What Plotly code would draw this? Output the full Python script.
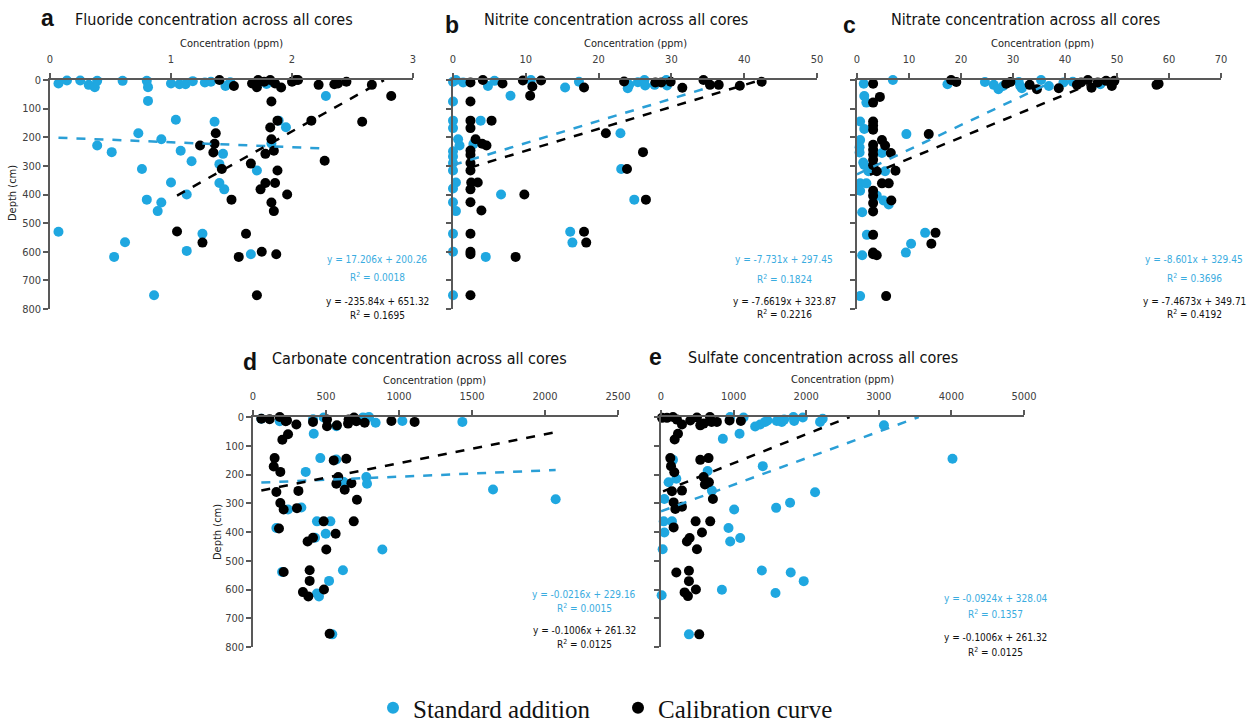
import numpy as np
import plotly.graph_objects as go

W, H = 1250, 727
BLUE = "#1FA7E0"
BLUE_TXT = "#3AACE0"
BLACK = "#000000"
AXC = "#595959"
NARROW = "DejaVu Sans Condensed, Liberation Sans Narrow, sans-serif"

# ---------------- data (concentration ppm, depth cm) ----------------
fluoride_sa_conc = [0.07,0.14,0.25,0.32,0.37,0.39,0.60,0.80,0.81,0.81,1.00,1.07,1.12,1.18,1.28,1.33,1.45,1.49,1.79,2.28,
                    1.04,1.36,1.89,1.95,0.73,0.92,0.39,0.51,1.08,1.17,1.43,1.40,0.76,1.71,1.00,1.40,1.44,1.13,0.80,0.92,
                    0.89,1.83,0.07,0.62,0.53,1.26,1.13,1.66,0.86]
fluoride_sa_depth = [12,2,2,17,25,3,3,3,25,73,12,15,15,4,9,6,21,8,14,56,
                     139,146,142,165,186,207,229,252,247,284,258,294,311,316,358,360,382,400,418,428,
                     458,222,530,567,618,537,597,609,752]
fluoride_cc_conc = [1.40,1.52,1.67,1.71,1.72,1.71,1.77,1.82,1.86,1.91,2.00,2.03,2.05,2.22,2.35,2.38,2.45,2.66,2.82,1.83,
                    1.88,2.16,2.58,1.82,1.37,1.83,1.24,1.36,1.35,1.85,1.78,2.27,1.66,1.42,1.88,1.78,1.86,1.74,1.96,1.50,
                    1.83,1.85,1.05,1.62,1.26,1.56,1.75,1.87,1.71]
fluoride_cc_depth = [0,21,12,7,0,25,6,0,12,26,6,0,0,17,15,12,6,17,56,75,
                     142,142,146,166,186,207,229,223,253,247,258,282,292,311,316,360,360,382,400,418,
                     428,458,529,537,568,618,600,609,752]

nitrite_sa_conc = [0,0.4,1.4,4.8,5.7,7.9,10.7,15.4,17.3,24,24.2,25.4,26.3,26.4,27.7,29.3,29.4,0,0,0,
                   3.8,0.7,0.9,2.8,0,0,0,0,0.4,0,0,0.4,6.6,23,23.1,24.9,16.1,16.4,0,0,4.5,0]
nitrite_sa_depth = [6,0,9,21,3,55,0,26,6,29,17,8,0,19,17,0,19,75,142,168,
                    142,207,229,224,249,267,290,316,358,379,427,458,400,186,311,418,530,568,537,600,618,752]
nitrite_cc_conc = [2.4,4.1,6.8,9.6,10.9,12.1,18.0,23.5,27.8,28.6,29.9,31.5,34.4,35.3,36.5,39.4,42.4,10.6,2.4,2.4,
                   2.4,5.3,21,3.1,4.0,4.6,2.4,2.4,2.4,2.4,26.1,23.9,2.5,3.4,2.4,9.8,2.4,3.9,26.5,18,
                   18.3,2.4,2.4,2.4,8.6,2.4]
nitrite_cc_depth = [9,0,12,2,23,2,26,5,9,9,6,27,0,17,17,20,6,55,75,142,
                    168,142,186,207,223,229,246,261,290,316,252,311,358,358,382,400,427,456,418,530,
                    568,537,600,609,618,752]

nitrate_sa_conc = [1.3,6.9,17.4,24.6,26.3,27.2,28.1,31.1,31.4,31.7,35.4,36.9,39.7,41.5,46.8,1.4,1.8,0.6,1.4,0.6,
                   0.5,0.5,1.2,1.4,2.2,4.8,5.4,9.5,0.6,1.8,0.6,3.8,5.1,6.1,1.0,1.9,13.1,10.4,9.4,1.0,0.6]
nitrate_sa_depth = [13,0,15,7,17,32,21,7,21,29,0,21,9,6,15,56,79,145,171,210,
                    235,253,288,297,319,255,319,189,361,361,387,404,421,435,462,541,534,572,603,612,755]
nitrate_cc_conc = [3.1,3.1,4.4,3.1,3.1,3.1,3.1,3.1,3.1,3.1,3.1,3.8,4.8,5.4,6.5,7.4,4.8,6.1,3.1,3.1,
                   3.1,3.1,6.6,3.1,3.1,3.8,3.1,13.8,15.1,14.3,5.6,18.1,19.1,28.7,29.5,33.2,34.6,38.8,42.3,43.1,
                   44.4,45.1,46.3,47.9,49.0,49.5,57.6,58.0]
nitrate_cc_depth = [13,79,59,145,159,174,226,244,260,279,298,319,210,229,255,317,361,361,387,404,
                    430,459,421,541,603,612,609,189,534,572,755,0,7,13,7,17,32,29,17,9,
                    0,27,9,3,21,3,17,13]

carbonate_sa_conc = [57,183,411,484,571,753,776,795,840,1023,1434,416,461,571,361,776,781,621,1644,2073,
                     240,331,160,438,530,498,425,886,616,199,521,438,452,543]
carbonate_sa_depth = [6,15,8,2,32,2,3,0,20,14,17,58,143,148,191,209,232,226,252,286,
                      322,315,386,363,363,406,420,461,533,539,570,614,624,756]
carbonate_cc_conc = [57,114,183,224,233,297,411,507,507,575,651,692,708,765,948,1107,655,240,201,148,
                     142,187,553,639,584,571,628,674,712,160,311,187,210,301,178,484,690,566,411,374,
                     502,388,388,210,342,379,486,525]
carbonate_cc_depth = [6,8,0,15,12,26,17,9,32,29,23,2,15,20,14,17,9,60,79,143,
                      172,191,151,145,209,232,253,230,288,261,257,299,322,317,388,363,363,406,420,433,
                      461,533,570,539,609,624,600,754]

sulfate_sa_conc = [953,1137,1082,852,1297,1366,1434,1467,1595,1664,1696,1824,1834,1953,2191,2227,3071,4015,1402,165,
                   105,211,642,701,2122,46,1008,1586,1778,37,151,46,930,953,1091,23,1389,1787,1966,839,
                   1577,9,385]
sulfate_sa_depth = [0,2,58,76,33,26,17,12,14,17,9,0,14,2,17,6,29,145,171,149,
                    227,215,188,256,262,285,322,316,298,363,363,402,386,433,421,460,534,541,571,601,
                    612,620,756]
sulfate_cc_conc = [14,82,165,220,289,403,495,541,587,674,697,770,944,1100,234,188,128,138,183,541,
                   655,587,605,660,151,289,174,197,289,715,477,678,174,564,394,357,495,211,385,385,
                   325,371,481,527]
sulfate_cc_depth = [3,3,0,9,26,12,2,29,23,0,17,17,12,14,58,78,143,171,192,149,
                    143,209,235,227,258,256,297,320,312,285,363,363,384,402,421,433,460,541,535,571,
                    610,623,600,756]

# linear fits: depth = slope * conc + intercept, drawn over the fitted x extent
fit_slope_sa = [17.206, -7.731, -8.601, -0.0216, -0.0924]
fit_icpt_sa = [200.26, 297.45, 329.45, 229.16, 328.04]
fit_r2_sa = ["0.0018", "0.1824", "0.3696", "0.0015", "0.1357"]
fit_slope_cc = [-235.84, -7.6619, -7.4673, -0.1006, -0.1006]
fit_icpt_cc = [651.32, 323.87, 349.71, 261.32, 261.32]
fit_r2_cc = ["0.1695", "0.2216", "0.4192", "0.0125", "0.0125"]
fit_xrange_sa = [[0.07, 2.28], [0, 35.2], [0, 36.3], [57, 2073], [0, 3550]]
fit_xrange_cc = [[1.05, 2.76], [2.4, 42.3], [2.5, 44.3], [57, 2100], [28, 2598]]

panel_letters = ["a", "b", "c", "d", "e"]
panel_titles = ["Fluoride concentration across all cores", "Nitrite concentration across all cores",
                "Nitrate concentration across all cores", "Carbonate concentration across all cores",
                "Sulfate concentration across all cores"]
x_max = [3, 50, 70, 2500, 5000]
x_dtick = [1, 10, 10, 500, 1000]
depth_ticks = [0, 100, 200, 300, 400, 500, 600, 700, 800]

series = [
    (fluoride_sa_conc, fluoride_sa_depth, fluoride_cc_conc, fluoride_cc_depth),
    (nitrite_sa_conc, nitrite_sa_depth, nitrite_cc_conc, nitrite_cc_depth),
    (nitrate_sa_conc, nitrate_sa_depth, nitrate_cc_conc, nitrate_cc_depth),
    (carbonate_sa_conc, carbonate_sa_depth, carbonate_cc_conc, carbonate_cc_depth),
    (sulfate_sa_conc, sulfate_sa_depth, sulfate_cc_conc, sulfate_cc_depth),
]

# ---------------- layout geometry (pixels) ----------------
boxes = [(50, 413, 80, 309), (453, 817, 80, 309), (857, 1221, 80, 309),
         (253, 618, 417, 647), (661, 1024, 417, 647)]
letter_pos = [(47, 18), (452, 25), (849, 25), (250, 362), (655, 357)]
title_pos = [(214, 20), (616, 20), (1025, 20), (419, 359), (823, 357)]
axtitle_pos = [(232, 43), (635, 43), (1042, 43), (435, 380), (842, 379)]
eq_pos = [(377, 260, 277, 301, 315), (784, 260, 279, 301, 314), (1194, 259, 278, 301, 314),
          (584, 594, 608, 630, 644), (996, 598, 614, 637, 652)]
show_ylabels = [True, False, False, True, False]
depth_title_pos = [(12, 193), (217, 532)]


def px(x):
    return x / W


def py(y):
    return 1 - y / H


fig = go.Figure()
layout = dict(width=W, height=H, margin=dict(l=0, r=0, t=0, b=0, autoexpand=False),
              paper_bgcolor="white", plot_bgcolor="white", showlegend=True)
annotations = []

for i in range(5):
    xa = "x" if i == 0 else f"x{i+1}"
    ya = "y" if i == 0 else f"y{i+1}"
    sa_x, sa_y, cc_x, cc_y = series[i]
    fig.add_trace(go.Scatter(x=sa_x, y=sa_y, mode="markers", xaxis=xa, yaxis=ya,
                             marker=dict(color=BLUE, size=10), cliponaxis=False, showlegend=False,
                             name="Standard addition"))
    fig.add_trace(go.Scatter(x=cc_x, y=cc_y, mode="markers", xaxis=xa, yaxis=ya,
                             marker=dict(color=BLACK, size=10), cliponaxis=False, showlegend=False,
                             name="Calibration curve"))
    xr = np.array(fit_xrange_sa[i], dtype=float)
    fig.add_trace(go.Scatter(x=xr, y=fit_slope_sa[i] * xr + fit_icpt_sa[i], mode="lines",
                             xaxis=xa, yaxis=ya, line=dict(color="#2A9FD6", width=2.5, dash="dash"),
                             showlegend=False, cliponaxis=False, hoverinfo="skip"))
    xr = np.array(fit_xrange_cc[i], dtype=float)
    fig.add_trace(go.Scatter(x=xr, y=fit_slope_cc[i] * xr + fit_icpt_cc[i], mode="lines",
                             xaxis=xa, yaxis=ya, line=dict(color=BLACK, width=2.5, dash="dash"),
                             showlegend=False, cliponaxis=False, hoverinfo="skip"))

    x0, x1, yt, yb = boxes[i]
    xkey = "xaxis" if i == 0 else f"xaxis{i+1}"
    ykey = "yaxis" if i == 0 else f"yaxis{i+1}"
    layout[xkey] = dict(domain=[px(x0), px(x1)], range=[0, x_max[i]], side="top", anchor=ya,
                        tick0=0, dtick=x_dtick[i], showgrid=False, zeroline=False,
                        showline=True, linecolor=AXC, linewidth=1.5,
                        ticks="outside", ticklen=5, tickcolor=AXC, tickwidth=1.5,
                        tickfont=dict(family=NARROW, size=11, color="#404040"),
                        ticklabelstandoff=6, fixedrange=True, automargin=False)
    layout[ykey] = dict(domain=[py(yb), py(yt)], range=[800, 0], anchor=xa,
                        tickvals=depth_ticks, showticklabels=show_ylabels[i],
                        showgrid=False, zeroline=False,
                        showline=True, linecolor=AXC, linewidth=1.5,
                        ticks="outside", ticklen=5, tickcolor=AXC, tickwidth=1.5,
                        tickfont=dict(family=NARROW, size=11, color="#404040"), fixedrange=True,
                        automargin=False)

    lx, ly = letter_pos[i]
    annotations.append(dict(x=px(lx), y=py(ly), xref="paper", yref="paper", showarrow=False,
                            text=f"<b>{panel_letters[i]}</b>", xanchor="center", yanchor="middle",
                            font=dict(family="Liberation Sans, Arial, sans-serif", size=23, color="#111")))
    tx, ty = title_pos[i]
    annotations.append(dict(x=px(tx), y=py(ty), xref="paper", yref="paper", showarrow=False,
                            text=panel_titles[i], xanchor="center", yanchor="middle",
                            font=dict(family=NARROW, size=16, color="#111")))
    ax_, ay_ = axtitle_pos[i]
    annotations.append(dict(x=px(ax_), y=py(ay_), xref="paper", yref="paper", showarrow=False,
                            text="Concentration (ppm)", xanchor="center", yanchor="middle",
                            font=dict(family=NARROW, size=11, color="#222")))
    ex, e1, e2, e3, e4 = eq_pos[i]
    s_sa = f"y = {fit_slope_sa[i]}x + {fit_icpt_sa[i]}"
    s_cc = f"y = {fit_slope_cc[i]}x + {fit_icpt_cc[i]}"
    for txt, yy, col in [(s_sa, e1, BLUE_TXT), (f"R<sup>2</sup> = {fit_r2_sa[i]}", e2, BLUE_TXT),
                         (s_cc, e3, "#111"), (f"R<sup>2</sup> = {fit_r2_cc[i]}", e4, "#111")]:
        annotations.append(dict(x=px(ex), y=py(yy), xref="paper", yref="paper", showarrow=False,
                                text=txt, xanchor="center", yanchor="middle",
                                font=dict(family=NARROW, size=10, color=col)))

for (dx, dy) in depth_title_pos:
    annotations.append(dict(x=px(dx), y=py(dy), xref="paper", yref="paper", showarrow=False,
                            text="Depth (cm)", textangle=-90, xanchor="center", yanchor="middle",
                            font=dict(family=NARROW, size=11, color="#222")))

# legend entries
fig.add_trace(go.Scatter(x=[None], y=[None], mode="markers", marker=dict(color=BLUE, size=11),
                         name="Standard addition", showlegend=True))
fig.add_trace(go.Scatter(x=[None], y=[None], mode="markers", marker=dict(color=BLACK, size=11),
                         name="Calibration curve", showlegend=True))

layout["legend"] = dict(orientation="h", x=px(373), y=py(708), xanchor="left", yanchor="middle",
                        font=dict(family="Liberation Serif, Times New Roman, serif", size=25, color="#111"),
                        bgcolor="rgba(0,0,0,0)", itemsizing="constant",
                        entrywidth=200, entrywidthmode="pixels", itemclick=False, itemdoubleclick=False)
layout["annotations"] = annotations
fig.update_layout(**layout)
fig.write_html("out.html")
